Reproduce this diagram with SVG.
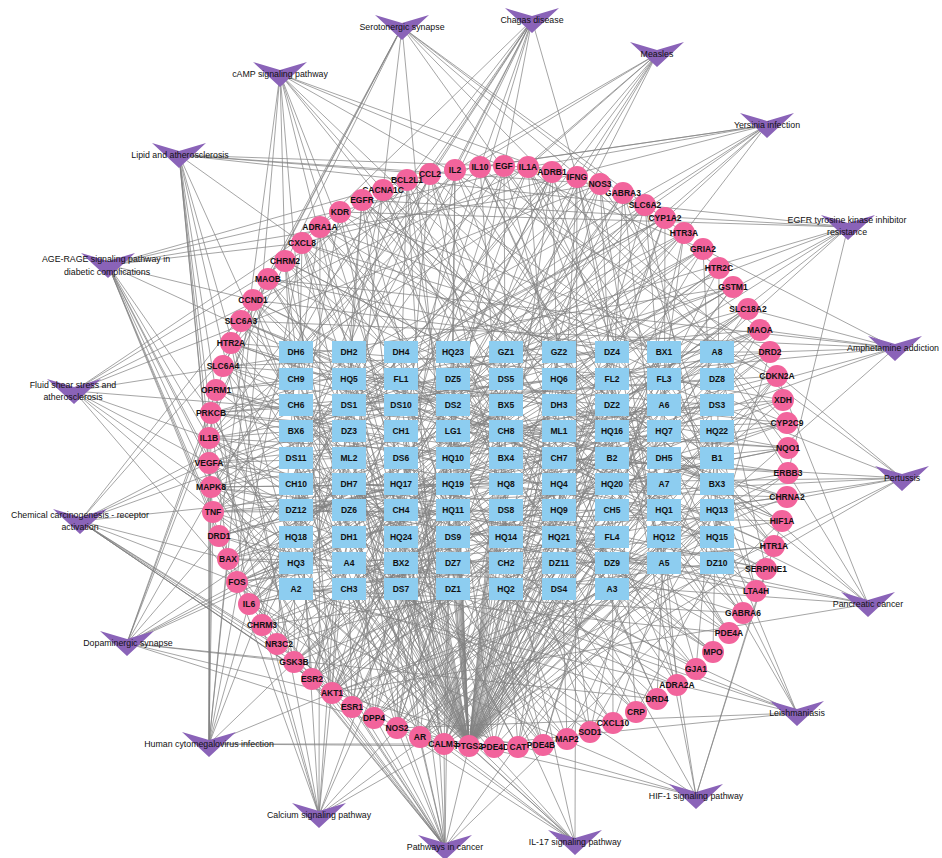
<svg xmlns="http://www.w3.org/2000/svg" xmlns:xlink="http://www.w3.org/1999/xlink" width="942" height="858" viewBox="0 0 942 858">
<style>
.edges path{fill:none;stroke:#828282;stroke-width:0.72}
.genes circle{fill:#f2649c}
.genes text,.cpds text{font-family:"Liberation Sans",Arial,sans-serif;font-size:8.5px;font-weight:bold;fill:#111;text-anchor:middle}
.cpds rect{fill:#8dcdf0}
.pws use{fill:#8a63b8}
.pws text{font-family:"Liberation Sans",Arial,sans-serif;font-size:8.8px;fill:#111;text-anchor:middle}
</style>
<defs>
<path id="vee" d="M-27-12L0-4L27-12L0 13Z"/>
</defs>
<rect width="942" height="858" fill="#fff"/>

<g id="edges" class="edges">
<!-- compound to target edges -->
<path d="M455 170L296 352M455 170L559 431M455 170L401 537M455 170L664 484"/>
<path d="M480 167L506 537M480 167L296 352M480 167L612 458M480 167L401 405"/>
<path d="M504 166L717 458M504 166L506 537M504 166L349 379M504 166L612 589"/>
<path d="M528 167L453 379M528 167L717 458M528 167L559 563M528 167L349 510"/>
<path d="M552 172L664 563M552 172L453 379M552 172L296 484M552 172L559 431M552 172L349 589M552 172L506 510"/>
<path d="M577 177L401 484M577 177L664 563M577 177L506 405M577 177L296 352"/>
<path d="M600 184L612 405M600 184L401 484M600 184L717 352M600 184L506 537"/>
<path d="M623 193L349 589M623 193L612 405M623 193L453 510M623 193L717 458M623 193L506 352M623 193L664 537"/>
<path d="M645 205L559 510M645 205L349 589M645 205L664 431M645 205L453 379M645 205L717 537M645 205L401 458"/>
<path d="M665 218L296 431M665 218L559 510M665 218L401 352M665 218L664 563M665 218L453 458M665 218L612 379"/>
<path d="M684 233L506 352M684 233L296 431M684 233L612 537M684 233L401 484M684 233L664 379M684 233L349 563"/>
<path d="M703 249L717 537M703 249L506 352M703 249L349 458M703 249L612 405"/>
<path d="M719 268L453 458M719 268L717 537M719 268L559 379M719 268L349 589"/>
<path d="M733 287L664 379M733 287L453 458M733 287L296 563M733 287L559 510"/>
<path d="M748 309L401 563M748 309L664 379M748 309L506 484M748 309L296 431"/>
<path d="M760 330L612 484M760 330L401 563M760 330L717 405M760 330L506 352M760 330L296 510M760 330L453 431"/>
<path d="M770 352L349 405M770 352L612 484M770 352L453 589M770 352L717 537M770 352L506 431M770 352L664 352"/>
<path d="M777 376L559 589M777 376L349 405M777 376L664 510M777 376L453 458"/>
<path d="M783 400L296 510M783 400L559 589M783 400L401 431M783 400L664 379"/>
<path d="M787 423L506 431M787 423L296 510M787 423L612 352M787 423L401 563M787 423L664 458M787 423L349 379"/>
<path d="M788 448L717 352M788 448L506 431M788 448L349 537M788 448L612 484"/>
<path d="M788 473L453 537M788 473L717 352M788 473L559 458M788 473L349 405"/>
<path d="M787 497L664 458M787 497L453 537M787 497L296 379M787 497L559 589"/>
<path d="M782 521L401 379M782 521L664 458M782 521L506 563M782 521L296 510"/>
<path d="M774 546L612 563M774 546L401 379M774 546L717 484M774 546L506 431"/>
<path d="M766 569L349 484M766 569L612 563M766 569L453 405M766 569L717 352"/>
<path d="M756 591L559 405M756 591L349 484M756 591L664 352M756 591L453 537"/>
<path d="M743 613L296 589M743 613L559 405M743 613L401 510M743 613L664 458"/>
<path d="M729 633L506 510M729 633L296 589M729 633L612 431M729 633L401 379"/>
<path d="M713 652L717 431M713 652L506 510M713 652L349 352M713 652L612 563"/>
<path d="M696 669L453 352M696 669L717 431M696 669L559 537M696 669L349 484"/>
<path d="M677 685L664 537M677 685L453 352M677 685L296 458M677 685L559 405"/>
<path d="M657 699L401 458M657 699L664 537M657 699L506 379M657 699L296 589"/>
<path d="M636 712L612 379M636 712L401 458M636 712L717 563M636 712L506 510"/>
<path d="M613 723L349 563M613 723L612 379M613 723L453 484M613 723L717 431"/>
<path d="M590 732L559 484M590 732L349 563M590 732L664 405M590 732L453 352"/>
<path d="M567 739L296 405M567 739L559 484M567 739L401 589M567 739L664 537"/>
<path d="M543 745L506 589M543 745L296 405M543 745L612 510M543 745L401 458M543 745L664 352M543 745L349 537"/>
<path d="M518 747L717 510M518 747L506 589M518 747L349 431M518 747L612 379M518 747L401 537M518 747L559 458"/>
<path d="M494 747L453 431M494 747L717 510M494 747L559 352M494 747L349 563M494 747L612 458M494 747L296 379"/>
<path d="M469 746L296 352M469 746L296 379M469 746L296 405M469 746L296 431M469 746L296 458M469 746L296 484M469 746L296 510M469 746L296 537M469 746L296 563M469 746L296 589M469 746L349 352M469 746L349 379M469 746L349 405M469 746L349 431M469 746L349 458M469 746L349 484M469 746L349 510M469 746L349 537M469 746L349 563M469 746L349 589M469 746L401 352M469 746L401 379M469 746L401 405M469 746L401 431M469 746L401 458M469 746L401 484M469 746L401 510M469 746L401 537M469 746L401 563M469 746L401 589M469 746L453 352M469 746L453 379M469 746L453 405M469 746L453 431M469 746L453 458M469 746L453 484M469 746L453 510M469 746L453 537M469 746L453 563M469 746L453 589M469 746L506 352M469 746L506 379M469 746L506 405M469 746L506 431M469 746L506 458M469 746L506 484M469 746L506 510M469 746L506 537M469 746L506 563M469 746L506 589M469 746L559 352M469 746L559 379M469 746L559 405M469 746L559 431M469 746L559 458M469 746L559 484M469 746L559 510M469 746L559 537M469 746L559 563M469 746L559 589M469 746L612 352M469 746L612 379M469 746L612 405M469 746L612 431M469 746L612 458M469 746L612 484M469 746L612 510M469 746L612 537M469 746L612 563M469 746L612 589M469 746L664 352M469 746L664 379M469 746L664 405M469 746L664 431M469 746L664 458M469 746L664 484M469 746L664 510M469 746L664 537M469 746L664 563M469 746L717 352M469 746L717 379M469 746L717 405M469 746L717 431M469 746L717 458M469 746L717 484M469 746L717 510M469 746L717 537M469 746L717 563"/>
<path d="M444 744L401 537M444 744L664 352M444 744L506 458M444 744L296 405M444 744L559 563M444 744L717 484M444 744L453 379M444 744L349 589M444 744L612 431M444 744L506 510"/>
<path d="M420 737L612 458M420 737L401 537M420 737L717 379M420 737L506 589M420 737L296 484M420 737L453 405M420 737L664 563M420 737L559 510M420 737L349 352M420 737L717 431"/>
<path d="M397 728L349 379M397 728L612 458M397 728L453 563M397 728L717 510M397 728L506 405M397 728L664 352M397 728L401 484M397 728L296 431M397 728L559 537M397 728L453 352"/>
<path d="M374 718L559 563M374 718L349 379M374 718L664 484M374 718L453 431M374 718L717 352M374 718L401 510M374 718L612 405M374 718L506 352M374 718L296 458M374 718L664 537"/>
<path d="M352 707L296 484M352 707L559 563M352 707L401 405M352 707L664 352M352 707L453 510M352 707L612 431M352 707L349 589M352 707L717 537M352 707L506 379M352 707L401 458"/>
<path d="M332 693L506 405M332 693L296 484M332 693L612 589M332 693L401 537M332 693L664 431M332 693L349 352M332 693L559 510M332 693L453 458M332 693L717 563M332 693L612 379"/>
<path d="M312 679L717 352M312 679L506 431M312 679L349 537M312 679L612 484M312 679L401 379M312 679L559 563M312 679L296 458M312 679L664 405M312 679L453 510M312 679L349 589"/>
<path d="M294 662L453 510M294 662L717 352M294 662L559 431M294 662L349 379M294 662L612 537M294 662L296 458"/>
<path d="M277 644L664 431M277 644L453 510M277 644L296 352M277 644L559 563M277 644L349 458M277 644L506 379"/>
<path d="M262 625L401 352M262 625L664 431M262 625L506 537M262 625L296 484M262 625L559 379M262 625L717 563"/>
<path d="M249 604L612 537M249 604L401 352M249 604L717 458M249 604L506 405"/>
<path d="M237 582L349 458M237 582L612 537M237 582L453 379M237 582L717 352"/>
<path d="M228 559L559 379M228 559L349 458M228 559L664 563M228 559L453 510"/>
<path d="M219 536L296 563M219 536L559 379M219 536L401 484M219 536L664 431"/>
<path d="M213 512L506 484M213 512L296 563M213 512L612 405M213 512L401 352"/>
<path d="M211 487L717 405M211 487L506 484M211 487L349 589M211 487L612 537"/>
<path d="M209 463L453 589M209 463L717 405M209 463L559 510M209 463L349 458"/>
<path d="M209 438L664 510M209 438L453 589M209 438L296 431M209 438L559 379"/>
<path d="M211 413L401 431M211 413L664 510M211 413L506 352M211 413L296 563M211 413L559 458M211 413L717 379"/>
<path d="M216 390L612 352M216 390L401 431M216 390L717 537M216 390L506 484M216 390L296 379M216 390L453 563"/>
<path d="M223 366L349 537M223 366L612 352M223 366L453 458M223 366L717 405M223 366L506 563M223 366L664 484"/>
<path d="M231 343L559 458M231 343L349 537M231 343L664 379M231 343L453 589M231 343L717 484M231 343L401 405"/>
<path d="M241 321L296 379M241 321L559 458M241 321L401 563M241 321L664 510"/>
<path d="M253 300L506 563M253 300L296 379M253 300L612 484M253 300L401 431"/>
<path d="M268 279L717 484M268 279L506 563M268 279L349 405M268 279L612 352"/>
<path d="M285 261L453 405M285 261L717 484M285 261L559 589M285 261L349 537M285 261L612 431M285 261L296 352"/>
<path d="M302 243L664 352M302 243L453 431M302 243L296 537M302 243L559 484"/>
<path d="M320 227L401 510M320 227L664 352M320 227L506 431M320 227L296 379M320 227L559 537M320 227L717 458"/>
<path d="M340 212L612 431M340 212L401 510M340 212L717 352M340 212L506 563"/>
<path d="M362 200L349 352M362 200L612 431M362 200L453 537M362 200L717 484"/>
<path d="M383 190L559 537M383 190L349 352M383 190L664 458M383 190L453 405"/>
<path d="M407 180L296 458M407 180L559 537M407 180L401 379M407 180L664 352"/>
<path d="M430 174L506 379M430 174L296 458M430 174L612 563M430 174L401 510"/>
<!-- further compound to target edges -->
<path d="M455 170L453 379M480 167L664 563M504 166L401 484M528 167L612 405M577 177L559 510M600 184L296 431M703 249L401 563M719 268L612 484M733 287L349 405M748 309L559 589M777 376L717 352M783 400L453 537M788 448L401 379M788 473L612 563M787 497L349 484M782 521L559 405M774 546L296 589M766 569L506 510M756 591L717 431M743 613L453 352M729 633L664 537M713 652L401 458M696 669L612 379M677 685L349 563M657 699L559 484M636 712L296 405M613 723L506 589M590 732L717 510M567 739L453 431"/>
<path d="M249 604L296 563M237 582L506 484M228 559L717 405M219 536L453 589M213 512L664 510M211 487L401 431M209 463L612 352M209 438L349 537M241 321L453 405M253 300L664 352M268 279L401 510M302 243L349 379M340 212L296 458M362 200L506 379M383 190L717 563M407 180L453 484M430 174L664 405"/>
<!-- pathway to target edges -->
<path d="M402 27L684 233M402 27L719 268M402 27L231 343M402 27L774 546M402 27L223 366M402 27L760 330M402 27L268 279M402 27L211 413M402 27L383 190M402 27L469 746M402 27L787 423"/>
<path d="M280 74L552 172M280 74L219 536M280 74L770 352M280 74L774 546M280 74L285 261M280 74L703 249M280 74L383 190M280 74L729 633M280 74L543 745M280 74L494 747M280 74L332 693M280 74L444 744M280 74L237 582"/>
<path d="M179 155L209 438M179 155L249 604M179 155L213 512M179 155L430 174M179 155L302 243M179 155L211 487M179 155L332 693M179 155L407 180M179 155L228 559M179 155L444 744M179 155L528 167M179 155L294 662M179 155L600 184"/>
<path d="M532 20L455 170M532 20L480 167M532 20L577 177M532 20L209 438M532 20L249 604M532 20L213 512M532 20L430 174M532 20L302 243M532 20L397 728M532 20L332 693M532 20L237 582M532 20L211 487"/>
<path d="M657 54L455 170M657 54L577 177M657 54L528 167M657 54L209 438M657 54L249 604M657 54L253 300M657 54L332 693M657 54L294 662M657 54L228 559"/>
<path d="M767 125L528 167M767 125L209 438M767 125L480 167M767 125L249 604M767 125L213 512M767 125L302 243M767 125L211 487M767 125L237 582M767 125L332 693M767 125L430 174"/>
<path d="M848 227L362 200M848 227L788 473M848 227L340 212M848 227L332 693M848 227L228 559M848 227L407 180M848 227L249 604M848 227L211 413M848 227L294 662M848 227L209 463"/>
<path d="M108 265L528 167M108 265L209 438M108 265L249 604M108 265L213 512M108 265L430 174M108 265L302 243M108 265L209 463M108 265L766 569M108 265L211 413M108 265L332 693M108 265L211 487M108 265L253 300M108 265L228 559M108 265L600 184"/>
<path d="M895 348L219 536M895 348L241 321M895 348L748 309M895 348L760 330M895 348L268 279M895 348L237 582M895 348L444 744M895 348L703 249M895 348L211 413M895 348L770 352"/>
<path d="M74 391L528 167M74 391L209 438M74 391L213 512M74 391L430 174M74 391L600 184M74 391L209 463M74 391L340 212M74 391L332 693M74 391L211 487M74 391L733 287M74 391L788 448"/>
<path d="M902 478L209 438M902 478L249 604M902 478L213 512M902 478L480 167M902 478L302 243M902 478L397 728M902 478L444 744M902 478L237 582M902 478L211 487M902 478L528 167"/>
<path d="M80 521L420 737M80 521L352 707M80 521L312 679M80 521L253 300M80 521L665 218M80 521L332 693M80 521L294 662M80 521L362 200M80 521L788 448M80 521L733 287M80 521L209 463M80 521L228 559M80 521L237 582M80 521L277 644"/>
<path d="M868 604L332 693M868 604L253 300M868 604L362 200M868 604L211 487M868 604L777 376M868 604L209 463M868 604L407 180M868 604L788 473M868 604L228 559"/>
<path d="M127 643L219 536M127 643L770 352M127 643L657 699M127 643L241 321M127 643L760 330M127 643L268 279M127 643L294 662M127 643L332 693M127 643L444 744M127 643L211 413M127 643L383 190M127 643L703 249M127 643L748 309"/>
<path d="M797 713L528 167M797 713L209 438M797 713L480 167M797 713L577 177M797 713L213 512M797 713L397 728M797 713L237 582M797 713L211 487M797 713L469 746"/>
<path d="M209 744L249 604M209 744L209 438M209 744L213 512M209 744L302 243M209 744L430 174M209 744L332 693M209 744L294 662M209 744L228 559M209 744L253 300M209 744L469 746M209 744L211 487M209 744L211 413M209 744L444 744M209 744L209 463"/>
<path d="M696 796L782 521M696 796L209 463M696 796L766 569M696 796L397 728M696 796L600 184M696 796L332 693M696 796L249 604M696 796L362 200M696 796L577 177"/>
<path d="M319 815L552 172M319 815L320 227M319 815L285 261M319 815L262 625M319 815L219 536M319 815L231 343M319 815L383 190M319 815L444 744M319 815L397 728M319 815L600 184M319 815L211 413M319 815L362 200M319 815L788 473"/>
<path d="M445 847L332 693M445 847L420 737M445 847L228 559M445 847L407 180M445 847L253 300M445 847L777 376M445 847L362 200M445 847L352 707M445 847L294 662M445 847L782 521M445 847L249 604M445 847L455 170M445 847L211 487M445 847L469 746M445 847L209 463M445 847L302 243M445 847L397 728M445 847L211 413M445 847L444 744M445 847L237 582"/>
<path d="M575 842L209 438M575 842L249 604M575 842L213 512M575 842L302 243M575 842L430 174M575 842L469 746M575 842L237 582M575 842L211 487M575 842L294 662M575 842L577 177"/>
</g>

<g id="targets" class="genes">
<g id="n-IL2"><circle cx="455" cy="170" r="11"/><text x="455" y="173">IL2</text></g>
<g id="n-CCL2"><circle cx="430" cy="174" r="11"/><text x="430" y="177">CCL2</text></g>
<g id="n-BCL2L1"><circle cx="407" cy="180" r="11"/><text x="407" y="183">BCL2L1</text></g>
<g id="n-CACNA1C"><circle cx="383" cy="190" r="11"/><text x="383" y="193">CACNA1C</text></g>
<g id="n-EGFR"><circle cx="362" cy="200" r="11"/><text x="362" y="203">EGFR</text></g>
<g id="n-KDR"><circle cx="340" cy="212" r="11"/><text x="340" y="215">KDR</text></g>
<g id="n-ADRA1A"><circle cx="320" cy="227" r="11"/><text x="320" y="230">ADRA1A</text></g>
<g id="n-CXCL8"><circle cx="302" cy="243" r="11"/><text x="302" y="246">CXCL8</text></g>
<g id="n-CHRM2"><circle cx="285" cy="261" r="11"/><text x="285" y="264">CHRM2</text></g>
<g id="n-MAOB"><circle cx="268" cy="279" r="11"/><text x="268" y="282">MAOB</text></g>
<g id="n-CCND1"><circle cx="253" cy="300" r="11"/><text x="253" y="303">CCND1</text></g>
<g id="n-SLC6A3"><circle cx="241" cy="321" r="11"/><text x="241" y="324">SLC6A3</text></g>
<g id="n-HTR2A"><circle cx="231" cy="343" r="11"/><text x="231" y="346">HTR2A</text></g>
<g id="n-SLC6A4"><circle cx="223" cy="366" r="11"/><text x="223" y="369">SLC6A4</text></g>
<g id="n-OPRM1"><circle cx="216" cy="390" r="11"/><text x="216" y="393">OPRM1</text></g>
<g id="n-PRKCB"><circle cx="211" cy="413" r="11"/><text x="211" y="416">PRKCB</text></g>
<g id="n-IL1B"><circle cx="209" cy="438" r="11"/><text x="209" y="441">IL1B</text></g>
<g id="n-VEGFA"><circle cx="209" cy="463" r="11"/><text x="209" y="466">VEGFA</text></g>
<g id="n-MAPK8"><circle cx="211" cy="487" r="11"/><text x="211" y="490">MAPK8</text></g>
<g id="n-TNF"><circle cx="213" cy="512" r="11"/><text x="213" y="515">TNF</text></g>
<g id="n-DRD1"><circle cx="219" cy="536" r="11"/><text x="219" y="539">DRD1</text></g>
<g id="n-BAX"><circle cx="228" cy="559" r="11"/><text x="228" y="562">BAX</text></g>
<g id="n-FOS"><circle cx="237" cy="582" r="11"/><text x="237" y="585">FOS</text></g>
<g id="n-IL6"><circle cx="249" cy="604" r="11"/><text x="249" y="607">IL6</text></g>
<g id="n-CHRM3"><circle cx="262" cy="625" r="11"/><text x="262" y="628">CHRM3</text></g>
<g id="n-NR3C2"><circle cx="277" cy="644" r="11"/><text x="279" y="647">NR3C2</text></g>
<g id="n-GSK3B"><circle cx="294" cy="662" r="11"/><text x="294" y="665">GSK3B</text></g>
<g id="n-ESR2"><circle cx="312" cy="679" r="11"/><text x="312" y="682">ESR2</text></g>
<g id="n-AKT1"><circle cx="332" cy="693" r="11"/><text x="332" y="696">AKT1</text></g>
<g id="n-ESR1"><circle cx="352" cy="707" r="11"/><text x="352" y="710">ESR1</text></g>
<g id="n-DPP4"><circle cx="374" cy="718" r="11"/><text x="374" y="721">DPP4</text></g>
<g id="n-NOS2"><circle cx="397" cy="728" r="11"/><text x="397" y="731">NOS2</text></g>
<g id="n-AR"><circle cx="420" cy="737" r="11"/><text x="420" y="740">AR</text></g>
<g id="n-CALM3"><circle cx="444" cy="744" r="11"/><text x="443" y="747">CALM3</text></g>
<g id="n-PTGS2"><circle cx="469" cy="746" r="11"/><text x="469" y="749">PTGS2</text></g>
<g id="n-PDE4D"><circle cx="494" cy="747" r="11"/><text x="495" y="750">PDE4D</text></g>
<g id="n-CAT"><circle cx="518" cy="747" r="11"/><text x="518" y="750">CAT</text></g>
<g id="n-PDE4B"><circle cx="543" cy="745" r="11"/><text x="541" y="748">PDE4B</text></g>
<g id="n-MAP2"><circle cx="567" cy="739" r="11"/><text x="567" y="742">MAP2</text></g>
<g id="n-SOD1"><circle cx="590" cy="732" r="11"/><text x="590" y="735">SOD1</text></g>
<g id="n-CXCL10"><circle cx="613" cy="723" r="11"/><text x="613" y="726">CXCL10</text></g>
<g id="n-CRP"><circle cx="636" cy="712" r="11"/><text x="636" y="715">CRP</text></g>
<g id="n-DRD4"><circle cx="657" cy="699" r="11"/><text x="657" y="702">DRD4</text></g>
<g id="n-ADRA2A"><circle cx="677" cy="685" r="11"/><text x="677" y="688">ADRA2A</text></g>
<g id="n-GJA1"><circle cx="696" cy="669" r="11"/><text x="696" y="672">GJA1</text></g>
<g id="n-MPO"><circle cx="713" cy="652" r="11"/><text x="713" y="655">MPO</text></g>
<g id="n-PDE4A"><circle cx="729" cy="633" r="11"/><text x="729" y="636">PDE4A</text></g>
<g id="n-GABRA6"><circle cx="743" cy="613" r="11"/><text x="743" y="616">GABRA6</text></g>
<g id="n-LTA4H"><circle cx="756" cy="591" r="11"/><text x="756" y="594">LTA4H</text></g>
<g id="n-SERPINE1"><circle cx="766" cy="569" r="11"/><text x="766" y="572">SERPINE1</text></g>
<g id="n-HTR1A"><circle cx="774" cy="546" r="11"/><text x="774" y="549">HTR1A</text></g>
<g id="n-HIF1A"><circle cx="782" cy="521" r="11"/><text x="782" y="524">HIF1A</text></g>
<g id="n-CHRNA2"><circle cx="787" cy="497" r="11"/><text x="787" y="500">CHRNA2</text></g>
<g id="n-ERBB3"><circle cx="788" cy="473" r="11"/><text x="788" y="476">ERBB3</text></g>
<g id="n-NQO1"><circle cx="788" cy="448" r="11"/><text x="788" y="451">NQO1</text></g>
<g id="n-CYP2C9"><circle cx="787" cy="423" r="11"/><text x="787" y="426">CYP2C9</text></g>
<g id="n-XDH"><circle cx="783" cy="400" r="11"/><text x="783" y="403">XDH</text></g>
<g id="n-CDKN2A"><circle cx="777" cy="376" r="11"/><text x="777" y="379">CDKN2A</text></g>
<g id="n-DRD2"><circle cx="770" cy="352" r="11"/><text x="770" y="355">DRD2</text></g>
<g id="n-MAOA"><circle cx="760" cy="330" r="11"/><text x="760" y="333">MAOA</text></g>
<g id="n-SLC18A2"><circle cx="748" cy="309" r="11"/><text x="748" y="312">SLC18A2</text></g>
<g id="n-GSTM1"><circle cx="733" cy="287" r="11"/><text x="733" y="290">GSTM1</text></g>
<g id="n-HTR2C"><circle cx="719" cy="268" r="11"/><text x="719" y="271">HTR2C</text></g>
<g id="n-GRIA2"><circle cx="703" cy="249" r="11"/><text x="703" y="252">GRIA2</text></g>
<g id="n-HTR3A"><circle cx="684" cy="233" r="11"/><text x="684" y="236">HTR3A</text></g>
<g id="n-CYP1A2"><circle cx="665" cy="218" r="11"/><text x="665" y="221">CYP1A2</text></g>
<g id="n-SLC6A2"><circle cx="645" cy="205" r="11"/><text x="645" y="208">SLC6A2</text></g>
<g id="n-GABRA3"><circle cx="623" cy="193" r="11"/><text x="623" y="196">GABRA3</text></g>
<g id="n-NOS3"><circle cx="600" cy="184" r="11"/><text x="600" y="187">NOS3</text></g>
<g id="n-IFNG"><circle cx="577" cy="177" r="11"/><text x="577" y="180">IFNG</text></g>
<g id="n-ADRB1"><circle cx="552" cy="172" r="11"/><text x="552" y="175">ADRB1</text></g>
<g id="n-IL1A"><circle cx="528" cy="167" r="11"/><text x="528" y="170">IL1A</text></g>
<g id="n-EGF"><circle cx="504" cy="166" r="11"/><text x="504" y="169">EGF</text></g>
<g id="n-IL10"><circle cx="480" cy="167" r="11"/><text x="480" y="170">IL10</text></g>
</g>

<g id="compounds" class="cpds">
<g id="c-DH6"><rect x="279" y="341" width="34" height="22"/><text x="296" y="355">DH6</text></g>
<g id="c-CH9"><rect x="279" y="368" width="34" height="22"/><text x="296" y="382">CH9</text></g>
<g id="c-CH6"><rect x="279" y="394" width="34" height="22"/><text x="296" y="408">CH6</text></g>
<g id="c-BX6"><rect x="279" y="420" width="34" height="22"/><text x="296" y="434">BX6</text></g>
<g id="c-DS11"><rect x="279" y="447" width="34" height="22"/><text x="296" y="461">DS11</text></g>
<g id="c-CH10"><rect x="279" y="473" width="34" height="22"/><text x="296" y="487">CH10</text></g>
<g id="c-DZ12"><rect x="279" y="499" width="34" height="22"/><text x="296" y="513">DZ12</text></g>
<g id="c-HQ18"><rect x="279" y="526" width="34" height="22"/><text x="296" y="540">HQ18</text></g>
<g id="c-HQ3"><rect x="279" y="552" width="34" height="22"/><text x="296" y="566">HQ3</text></g>
<g id="c-A2"><rect x="279" y="578" width="34" height="22"/><text x="296" y="592">A2</text></g>

<g id="c-DH2"><rect x="332" y="341" width="34" height="22"/><text x="349" y="355">DH2</text></g>
<g id="c-HQ5"><rect x="332" y="368" width="34" height="22"/><text x="349" y="382">HQ5</text></g>
<g id="c-DS1"><rect x="332" y="394" width="34" height="22"/><text x="349" y="408">DS1</text></g>
<g id="c-DZ3"><rect x="332" y="420" width="34" height="22"/><text x="349" y="434">DZ3</text></g>
<g id="c-ML2"><rect x="332" y="447" width="34" height="22"/><text x="349" y="461">ML2</text></g>
<g id="c-DH7"><rect x="332" y="473" width="34" height="22"/><text x="349" y="487">DH7</text></g>
<g id="c-DZ6"><rect x="332" y="499" width="34" height="22"/><text x="349" y="513">DZ6</text></g>
<g id="c-DH1"><rect x="332" y="526" width="34" height="22"/><text x="349" y="540">DH1</text></g>
<g id="c-A4"><rect x="332" y="552" width="34" height="22"/><text x="349" y="566">A4</text></g>
<g id="c-CH3"><rect x="332" y="578" width="34" height="22"/><text x="349" y="592">CH3</text></g>

<g id="c-DH4"><rect x="384" y="341" width="34" height="22"/><text x="401" y="355">DH4</text></g>
<g id="c-FL1"><rect x="384" y="368" width="34" height="22"/><text x="401" y="382">FL1</text></g>
<g id="c-DS10"><rect x="384" y="394" width="34" height="22"/><text x="401" y="408">DS10</text></g>
<g id="c-CH1"><rect x="384" y="420" width="34" height="22"/><text x="401" y="434">CH1</text></g>
<g id="c-DS6"><rect x="384" y="447" width="34" height="22"/><text x="401" y="461">DS6</text></g>
<g id="c-HQ17"><rect x="384" y="473" width="34" height="22"/><text x="401" y="487">HQ17</text></g>
<g id="c-CH4"><rect x="384" y="499" width="34" height="22"/><text x="401" y="513">CH4</text></g>
<g id="c-HQ24"><rect x="384" y="526" width="34" height="22"/><text x="401" y="540">HQ24</text></g>
<g id="c-BX2"><rect x="384" y="552" width="34" height="22"/><text x="401" y="566">BX2</text></g>
<g id="c-DS7"><rect x="384" y="578" width="34" height="22"/><text x="401" y="592">DS7</text></g>

<g id="c-HQ23"><rect x="436" y="341" width="34" height="22"/><text x="453" y="355">HQ23</text></g>
<g id="c-DZ5"><rect x="436" y="368" width="34" height="22"/><text x="453" y="382">DZ5</text></g>
<g id="c-DS2"><rect x="436" y="394" width="34" height="22"/><text x="453" y="408">DS2</text></g>
<g id="c-LG1"><rect x="436" y="420" width="34" height="22"/><text x="453" y="434">LG1</text></g>
<g id="c-HQ10"><rect x="436" y="447" width="34" height="22"/><text x="453" y="461">HQ10</text></g>
<g id="c-HQ19"><rect x="436" y="473" width="34" height="22"/><text x="453" y="487">HQ19</text></g>
<g id="c-HQ11"><rect x="436" y="499" width="34" height="22"/><text x="453" y="513">HQ11</text></g>
<g id="c-DS9"><rect x="436" y="526" width="34" height="22"/><text x="453" y="540">DS9</text></g>
<g id="c-DZ7"><rect x="436" y="552" width="34" height="22"/><text x="453" y="566">DZ7</text></g>
<g id="c-DZ1"><rect x="436" y="578" width="34" height="22"/><text x="453" y="592">DZ1</text></g>

<g id="c-GZ1"><rect x="489" y="341" width="34" height="22"/><text x="506" y="355">GZ1</text></g>
<g id="c-DS5"><rect x="489" y="368" width="34" height="22"/><text x="506" y="382">DS5</text></g>
<g id="c-BX5"><rect x="489" y="394" width="34" height="22"/><text x="506" y="408">BX5</text></g>
<g id="c-CH8"><rect x="489" y="420" width="34" height="22"/><text x="506" y="434">CH8</text></g>
<g id="c-BX4"><rect x="489" y="447" width="34" height="22"/><text x="506" y="461">BX4</text></g>
<g id="c-HQ8"><rect x="489" y="473" width="34" height="22"/><text x="506" y="487">HQ8</text></g>
<g id="c-DS8"><rect x="489" y="499" width="34" height="22"/><text x="506" y="513">DS8</text></g>
<g id="c-HQ14"><rect x="489" y="526" width="34" height="22"/><text x="506" y="540">HQ14</text></g>
<g id="c-CH2"><rect x="489" y="552" width="34" height="22"/><text x="506" y="566">CH2</text></g>
<g id="c-HQ2"><rect x="489" y="578" width="34" height="22"/><text x="506" y="592">HQ2</text></g>

<g id="c-GZ2"><rect x="542" y="341" width="34" height="22"/><text x="559" y="355">GZ2</text></g>
<g id="c-HQ6"><rect x="542" y="368" width="34" height="22"/><text x="559" y="382">HQ6</text></g>
<g id="c-DH3"><rect x="542" y="394" width="34" height="22"/><text x="559" y="408">DH3</text></g>
<g id="c-ML1"><rect x="542" y="420" width="34" height="22"/><text x="559" y="434">ML1</text></g>
<g id="c-CH7"><rect x="542" y="447" width="34" height="22"/><text x="559" y="461">CH7</text></g>
<g id="c-HQ4"><rect x="542" y="473" width="34" height="22"/><text x="559" y="487">HQ4</text></g>
<g id="c-HQ9"><rect x="542" y="499" width="34" height="22"/><text x="559" y="513">HQ9</text></g>
<g id="c-HQ21"><rect x="542" y="526" width="34" height="22"/><text x="559" y="540">HQ21</text></g>
<g id="c-DZ11"><rect x="542" y="552" width="34" height="22"/><text x="559" y="566">DZ11</text></g>
<g id="c-DS4"><rect x="542" y="578" width="34" height="22"/><text x="559" y="592">DS4</text></g>

<g id="c-DZ4"><rect x="595" y="341" width="34" height="22"/><text x="612" y="355">DZ4</text></g>
<g id="c-FL2"><rect x="595" y="368" width="34" height="22"/><text x="612" y="382">FL2</text></g>
<g id="c-DZ2"><rect x="595" y="394" width="34" height="22"/><text x="612" y="408">DZ2</text></g>
<g id="c-HQ16"><rect x="595" y="420" width="34" height="22"/><text x="612" y="434">HQ16</text></g>
<g id="c-B2"><rect x="595" y="447" width="34" height="22"/><text x="612" y="461">B2</text></g>
<g id="c-HQ20"><rect x="595" y="473" width="34" height="22"/><text x="612" y="487">HQ20</text></g>
<g id="c-CH5"><rect x="595" y="499" width="34" height="22"/><text x="612" y="513">CH5</text></g>
<g id="c-FL4"><rect x="595" y="526" width="34" height="22"/><text x="612" y="540">FL4</text></g>
<g id="c-DZ9"><rect x="595" y="552" width="34" height="22"/><text x="612" y="566">DZ9</text></g>
<g id="c-A3"><rect x="595" y="578" width="34" height="22"/><text x="612" y="592">A3</text></g>

<g id="c-BX1"><rect x="647" y="341" width="34" height="22"/><text x="664" y="355">BX1</text></g>
<g id="c-FL3"><rect x="647" y="368" width="34" height="22"/><text x="664" y="382">FL3</text></g>
<g id="c-A6"><rect x="647" y="394" width="34" height="22"/><text x="664" y="408">A6</text></g>
<g id="c-HQ7"><rect x="647" y="420" width="34" height="22"/><text x="664" y="434">HQ7</text></g>
<g id="c-DH5"><rect x="647" y="447" width="34" height="22"/><text x="664" y="461">DH5</text></g>
<g id="c-A7"><rect x="647" y="473" width="34" height="22"/><text x="664" y="487">A7</text></g>
<g id="c-HQ1"><rect x="647" y="499" width="34" height="22"/><text x="664" y="513">HQ1</text></g>
<g id="c-HQ12"><rect x="647" y="526" width="34" height="22"/><text x="664" y="540">HQ12</text></g>
<g id="c-A5"><rect x="647" y="552" width="34" height="22"/><text x="664" y="566">A5</text></g>

<g id="c-A8"><rect x="700" y="341" width="34" height="22"/><text x="717" y="355">A8</text></g>
<g id="c-DZ8"><rect x="700" y="368" width="34" height="22"/><text x="717" y="382">DZ8</text></g>
<g id="c-DS3"><rect x="700" y="394" width="34" height="22"/><text x="717" y="408">DS3</text></g>
<g id="c-HQ22"><rect x="700" y="420" width="34" height="22"/><text x="717" y="434">HQ22</text></g>
<g id="c-B1"><rect x="700" y="447" width="34" height="22"/><text x="717" y="461">B1</text></g>
<g id="c-BX3"><rect x="700" y="473" width="34" height="22"/><text x="717" y="487">BX3</text></g>
<g id="c-HQ13"><rect x="700" y="499" width="34" height="22"/><text x="717" y="513">HQ13</text></g>
<g id="c-HQ15"><rect x="700" y="526" width="34" height="22"/><text x="717" y="540">HQ15</text></g>
<g id="c-DZ10"><rect x="700" y="552" width="34" height="22"/><text x="717" y="566">DZ10</text></g>
</g>

<g id="pathways" class="pws">
<g id="p-serotonergic"><use href="#vee" x="402" y="27"/><text x="402" y="30">Serotonergic synapse</text></g>
<g id="p-chagas"><use href="#vee" x="532" y="20"/><text x="532" y="23">Chagas disease</text></g>
<g id="p-measles"><use href="#vee" x="657" y="54"/><text x="657" y="57">Measles</text></g>
<g id="p-camp"><use href="#vee" x="280" y="74"/><text x="280" y="77">cAMP signaling pathway</text></g>
<g id="p-yersinia"><use href="#vee" x="767" y="125"/><text x="767" y="128">Yersinia infection</text></g>
<g id="p-lipid"><use href="#vee" x="179" y="155"/><text x="180" y="158">Lipid and atherosclerosis</text></g>
<g id="p-egfr-tki"><use href="#vee" x="848" y="227"/><text x="847" y="223">EGFR tyrosine kinase inhibitor</text><text x="847" y="235">resistance</text></g>
<g id="p-age-rage"><use href="#vee" x="108" y="265"/><text x="106" y="262">AGE-RAGE signaling pathway in</text><text x="107" y="275">diabetic complications</text></g>
<g id="p-amphetamine"><use href="#vee" x="895" y="348"/><text x="893" y="351">Amphetamine addiction</text></g>
<g id="p-fluid-shear"><use href="#vee" x="74" y="391"/><text x="73" y="388">Fluid shear stress and</text><text x="73" y="400">atherosclerosis</text></g>
<g id="p-pertussis"><use href="#vee" x="902" y="478"/><text x="902" y="481">Pertussis</text></g>
<g id="p-chem-carcinogenesis"><use href="#vee" x="80" y="521"/><text x="80" y="518">Chemical carcinogenesis - receptor</text><text x="80" y="530">activation</text></g>
<g id="p-pancreatic"><use href="#vee" x="868" y="604"/><text x="868" y="607">Pancreatic cancer</text></g>
<g id="p-dopaminergic"><use href="#vee" x="127" y="643"/><text x="128" y="646">Dopaminergic synapse</text></g>
<g id="p-leishmaniasis"><use href="#vee" x="797" y="713"/><text x="797" y="716">Leishmaniasis</text></g>
<g id="p-hcmv"><use href="#vee" x="209" y="744"/><text x="209" y="747">Human cytomegalovirus infection</text></g>
<g id="p-hif1"><use href="#vee" x="696" y="796"/><text x="696" y="799">HIF-1 signaling pathway</text></g>
<g id="p-calcium"><use href="#vee" x="319" y="815"/><text x="319" y="818">Calcium signaling pathway</text></g>
<g id="p-cancer"><use href="#vee" x="445" y="847"/><text x="445" y="850">Pathways in cancer</text></g>
<g id="p-il17"><use href="#vee" x="575" y="842"/><text x="575" y="845">IL-17 signaling pathway</text></g>
</g>
</svg>
